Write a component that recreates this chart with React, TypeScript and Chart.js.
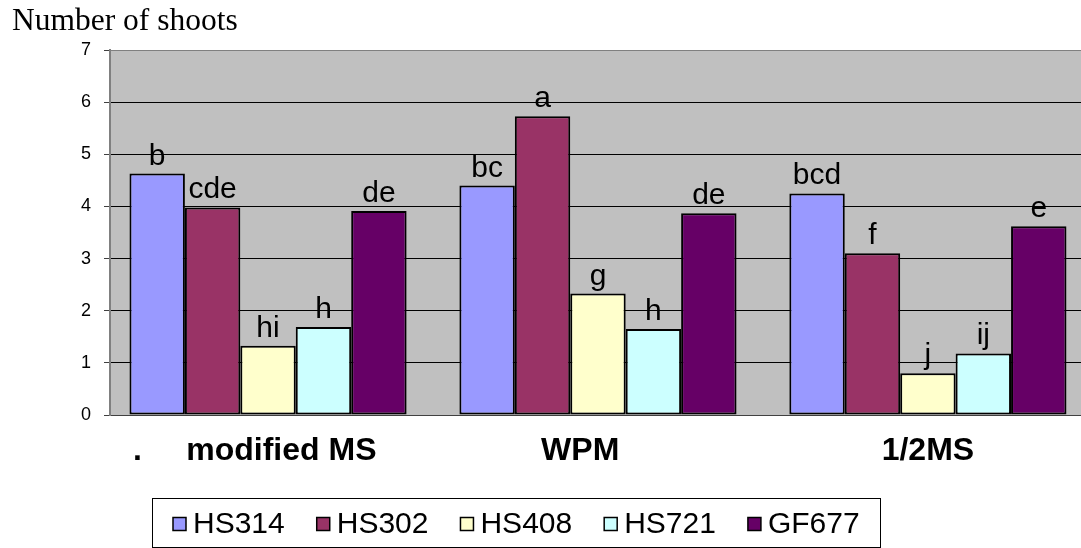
import React, { useEffect, useRef } from "react";
import { Chart, registerables } from "chart.js";

Chart.register(...registerables);

// ---- data ----
const categories = [".     modified MS   ", "WPM    ", "1/2MS"];
const seriesNames = ["HS314", "HS302", "HS408", "HS721", "GF677"];
const seriesColors = ["#9999FF", "#993366", "#FFFFCC", "#CCFFFF", "#660066"];

const hs314 = [4.63, 4.4, 4.25];
const hs302 = [3.98, 5.73, 3.1];
const hs408 = [1.33, 2.33, 0.8];
const hs721 = [1.69, 1.65, 1.18];
const gf677 = [3.91, 3.87, 3.62];

const hs314Letters = ["b", "bc", "bcd"];
const hs302Letters = ["cde", "a", "f"];
const hs408Letters = ["hi", "g", "j"];
const hs721Letters = ["h", "h", "ij"];
const gf677Letters = ["de", "de", "e"];

const yTickValues = [0, 1, 2, 3, 4, 5, 6, 7];
const yAxisTitle = "Number of shoots";

const seriesValues = [hs314, hs302, hs408, hs721, gf677];
const seriesLetters = [hs314Letters, hs302Letters, hs408Letters, hs721Letters, gf677Letters];

const SANS = '"Liberation Sans", Arial, sans-serif';
const SERIF = '"Liberation Serif", "Times New Roman", serif';

export default function App() {
  const ref = useRef<HTMLCanvasElement>(null);

  useEffect(() => {
    if (!ref.current) return;

    const datasets = seriesNames.map((name, s) => ({
      label: name,
      data: categories.map((_, i) => ({ x: i, y: seriesValues[s][i] })),
      backgroundColor: seriesColors[s],
      borderColor: "#000000",
      borderWidth: 2,
      borderSkipped: false,
      categoryPercentage: 0.84,
      barPercentage: 1,
    }));

    const bgPlugin = {
      id: "plotBg",
      beforeDraw(chart: any) {
        const { ctx, chartArea: a } = chart;
        ctx.save();
        ctx.fillStyle = "#C0C0C0";
        ctx.fillRect(a.left, a.top, a.right - a.left, a.bottom - a.top);
        ctx.restore();
      },
    };

    const lettersPlugin = {
      id: "letters",
      afterDatasetsDraw(chart: any) {
        const { ctx } = chart;
        ctx.save();
        ctx.font = `30px ${SANS}`;
        ctx.fillStyle = "#000";
        ctx.textAlign = "center";
        ctx.textBaseline = "alphabetic";
        chart.data.datasets.forEach((_: any, s: number) => {
          const meta = chart.getDatasetMeta(s);
          meta.data.forEach((el: any, i: number) => {
            ctx.fillText(seriesLetters[s][i], el.x, el.y - 9);
          });
        });
        ctx.restore();
      },
    };

    const titlePlugin = {
      id: "yTitle",
      afterDraw(chart: any) {
        const { ctx } = chart;
        ctx.save();
        ctx.font = `31.5px ${SERIF}`;
        ctx.fillStyle = "#000";
        ctx.textAlign = "left";
        ctx.textBaseline = "alphabetic";
        ctx.fillText(yAxisTitle, 12, 30);
        ctx.restore();
      },
    };

    const legendPlugin = {
      id: "boxLegend",
      afterDraw(chart: any) {
        const { ctx } = chart;
        ctx.save();
        const bx = 152.5, by = 498.5, bw = 728, bh = 49;
        ctx.strokeStyle = "#000";
        ctx.lineWidth = 1;
        ctx.strokeRect(bx, by, bw, bh);
        ctx.font = `30px ${SANS}`;
        ctx.textBaseline = "middle";
        ctx.textAlign = "left";
        let x = bx + 20.5;
        const cy = 524;
        chart.data.datasets.forEach((ds: any) => {
          ctx.fillStyle = ds.backgroundColor;
          ctx.fillRect(x, cy - 6.5, 13, 13);
          ctx.strokeStyle = "#000";
          ctx.lineWidth = 1.5;
          ctx.strokeRect(x, cy - 6.5, 13, 13);
          ctx.fillStyle = "#000";
          ctx.fillText(ds.label, x + 20, cy + 1);
          x += 20 + ctx.measureText(ds.label).width + 32;
        });
        ctx.restore();
      },
    };

    const chart = new Chart(ref.current, {
      type: "bar",
      data: { datasets: datasets as any },
      plugins: [bgPlugin, lettersPlugin, titlePlugin, legendPlugin],
      options: {
        animation: false,
        responsive: false,
        events: [],
        layout: { padding: { top: 50, left: 0, right: 0, bottom: 0 } },
        plugins: {
          legend: { display: false },
          title: { display: false },
          tooltip: { enabled: false },
        },
        scales: {
          x: {
            type: "linear",
            min: -0.479,
            max: 2.464,
            offset: false,
            grid: { display: false, drawTicks: false, offset: false },
            border: { display: true, color: "#404040", width: 1 },
            afterBuildTicks: (scale: any) => {
              scale.ticks = categories.map((_, i) => ({ value: i }));
            },
            afterFit: (scale: any) => {
              scale.height = 133;
            },
            ticks: {
              autoSkip: false,
              maxRotation: 0,
              minRotation: 0,
              padding: 17,
              color: "#000",
              font: { family: SANS, size: 32, weight: "bold" },
              callback: (v: any) => categories[Math.round(Number(v))] ?? "",
            },
          },
          y: {
            type: "linear",
            min: 0,
            max: 7,
            afterBuildTicks: (scale: any) => {
              scale.ticks = yTickValues.map((v) => ({ value: v }));
            },
            afterFit: (scale: any) => {
              scale.width = 110;
            },
            grid: {
              color: (c: any) => (c.tick && c.tick.value === 7 ? "#808080" : "#000000"),
              lineWidth: 1,
              drawTicks: true,
              tickLength: 6,
              tickColor: "#404040",
            },
            border: { display: true, color: "#808080", width: 2 },
            ticks: {
              padding: 13,
              color: "#000",
              font: { family: SANS, size: 18 },
              callback: (v: any) => String(v),
            },
          },
        },
      } as any,
    });

    return () => chart.destroy();
  }, []);

  return (
    <div style={{ position: "absolute", left: 0, top: 0, width: 1081, height: 548 }}>
      <canvas ref={ref} width={1081} height={548} style={{ width: 1081, height: 548, display: "block" }} />
    </div>
  );
}
